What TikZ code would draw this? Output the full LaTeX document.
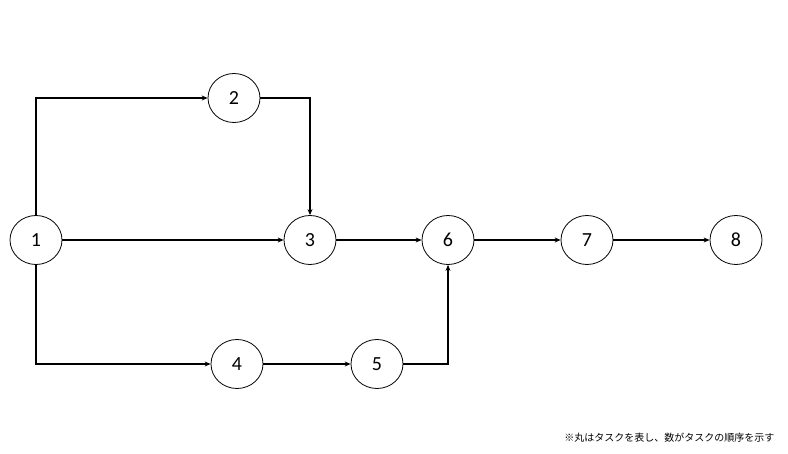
\documentclass[tikz,border=0pt]{standalone}
\usepackage{fontspec}
\setmainfont{Carlito}
\newfontfamily\cjk{Noto Sans CJK JP}
\usetikzlibrary{arrows.meta,shapes.geometric}
\begin{document}
\begin{tikzpicture}[x=1pt,y=-1pt,
  task/.style={draw,ellipse,minimum width=52pt,minimum height=49pt,inner sep=0pt,font=\fontsize{20}{20}\selectfont,line width=0.8pt},
  conn/.style={-{Stealth[length=6pt,width=5pt]},line width=1.2pt}]
\useasboundingbox (0,0) rectangle (788,454);
\node[task] (n1) at (36,240) {1};
\node[task] (n2) at (234,98) {2};
\node[task] (n3) at (310,240) {3};
\node[task] (n6) at (448,240) {6};
\node[task] (n7) at (587,240) {7};
\node[task] (n8) at (736,240) {8};
\node[task] (n4) at (237,364) {4};
\node[task] (n5) at (377,364) {5};
\draw[conn] (n1.north) |- (n2.west);
\draw[conn] (n2.east) -| (n3.north);
\draw[conn] (n1) -- (n3);
\draw[conn] (n3) -- (n6);
\draw[conn] (n6) -- (n7);
\draw[conn] (n7) -- (n8);
\draw[conn] (n1.south) |- (n4.west);
\draw[conn] (n4) -- (n5);
\draw[conn] (n5.east) -| (n6.south);
\node[font=\cjk\fontsize{10}{10}\selectfont,anchor=east] (note) at (778,438) {※丸はタスクを表し、数がタスクの順序を示す};
\end{tikzpicture}
\end{document}
